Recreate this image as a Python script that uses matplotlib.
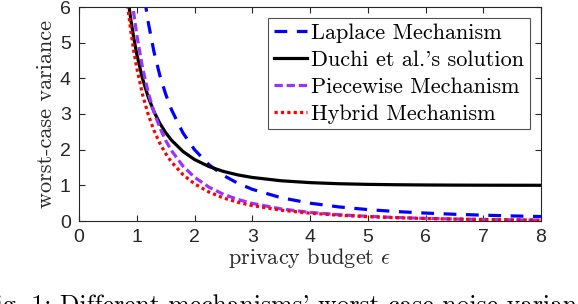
import matplotlib
matplotlib.use("Agg")
import matplotlib.pyplot as plt

eps = [0.8, 0.85, 0.9, 0.95, 1.0, 1.1, 1.2, 1.3, 1.4, 1.5, 1.6, 1.8, 2.0, 2.25, 2.5,
       2.75, 3.0, 3.5, 4.0, 4.5, 5.0, 5.5, 6.0, 6.5, 7.0, 7.5, 8.0]

eps_lap = [1.1, 1.2, 1.3, 1.4, 1.5, 1.6, 1.8, 2.0, 2.25, 2.5, 2.75, 3.0, 3.5, 4.0,
           4.5, 5.0, 5.5, 6.0, 6.5, 7.0, 7.5, 8.0]
laplace = [6.61, 5.56, 4.73, 4.08, 3.56, 3.125, 2.47, 2.0, 1.58, 1.28, 1.058, 0.889,
           0.653, 0.5, 0.395, 0.32, 0.264, 0.222, 0.189, 0.163, 0.142, 0.125]

duchi = [6.93, 6.215, 5.618, 5.113, 4.683, 3.992, 3.467, 3.060, 2.738, 2.479, 2.268,
         1.949, 1.724, 1.527, 1.390, 1.292, 1.221, 1.128, 1.076, 1.045, 1.027, 1.0165,
         1.010, 1.006, 1.0037, 1.0022, 1.0013]

eps_pm = [0.85, 0.9, 0.95, 1.0, 1.1, 1.2, 1.3, 1.4, 1.5, 1.6, 1.8, 2.0, 2.25, 2.5,
          2.75, 3.0, 3.5, 4.0, 4.5, 5.0, 5.5, 6.0, 6.5, 7.0, 7.5, 8.0]
piecewise = [7.27, 6.475, 5.80, 5.224, 4.298, 3.595, 3.047, 2.613, 2.262, 1.976, 1.539,
             1.228, 0.949, 0.750, 0.604, 0.493, 0.339, 0.241, 0.176, 0.130, 0.097,
             0.0735, 0.056, 0.043, 0.033, 0.025]

hybrid = [6.684, 5.927, 5.291, 4.751, 4.289, 3.545, 2.976, 2.532, 2.178, 1.892, 1.658,
          1.299, 1.042, 0.812, 0.647, 0.525, 0.432, 0.303, 0.219, 0.162, 0.1215, 0.092,
          0.070, 0.054, 0.0416, 0.032, 0.025]

labels = ["Laplace Mechanism", "Duchi et al.'s solution", "Piecewise Mechanism", "Hybrid Mechanism"]
xticks = [0, 1, 2, 3, 4, 5, 6, 7, 8]
yticks = [0, 1, 2, 3, 4, 5, 6]
caption = "Fig. 1: Different mechanisms' worst-case noise variance for one-dimensional"

plt.rcParams['mathtext.fontset'] = 'cm'
plt.rcParams['axes.unicode_minus'] = False

fig = plt.figure(figsize=(5.78, 3.04), dpi=100)
ax = fig.add_axes([79/578, 1-221/304, (541-79)/578, (221-7)/304])

lw = 2.3
ax.plot(eps_lap, laplace, color='#0000FF', lw=lw, ls=(0, (4.0, 3.0)), label=labels[0])
ax.plot(eps, duchi, color='black', lw=lw, ls='-', label=labels[1])
ax.plot(eps_pm, piecewise, color='#9933FF', lw=lw, ls=(0, (2.6, 1.2)), label=labels[2])
ax.plot(eps, hybrid, color='#FF0000', lw=lw, ls=(0, (1.0, 1.0)), label=labels[3])

ax.set_xlim(0, 8)
ax.set_ylim(0, 6)
ax.set_xticks(xticks)
ax.set_yticks(yticks)
ax.tick_params(direction='in', top=True, right=True, length=4, width=0.8,
               colors='#262626', labelsize=14, pad=6)
for lab in ax.get_xticklabels() + ax.get_yticklabels():
    lab.set_fontfamily('Liberation Sans')
    lab.set_color('#262626')
for sp in ax.spines.values():
    sp.set_color('#262626')
    sp.set_linewidth(0.8)

ax.set_xlabel(r"privacy budget $\epsilon$", fontfamily='cmr10', fontsize=16, color='#262626', labelpad=0)
ax.set_ylabel("worst-case variance", fontfamily='cmr10', fontsize=16, color='#262626', labelpad=3)

leg = ax.legend(loc='upper right', prop={'family': 'cmr10', 'size': 16}, frameon=True,
                fancybox=False, edgecolor='#262626', handlelength=1.5, handletextpad=0.18,
                borderpad=0.25, labelspacing=0.33, borderaxespad=0.5)
leg.get_frame().set_linewidth(0.8)

fig.text(-21/578, 1-294/304, caption,
         fontfamily='cmr10', fontsize=18.5, va='top', ha='left', color='black')

fig.savefig("out.png", dpi=100)
